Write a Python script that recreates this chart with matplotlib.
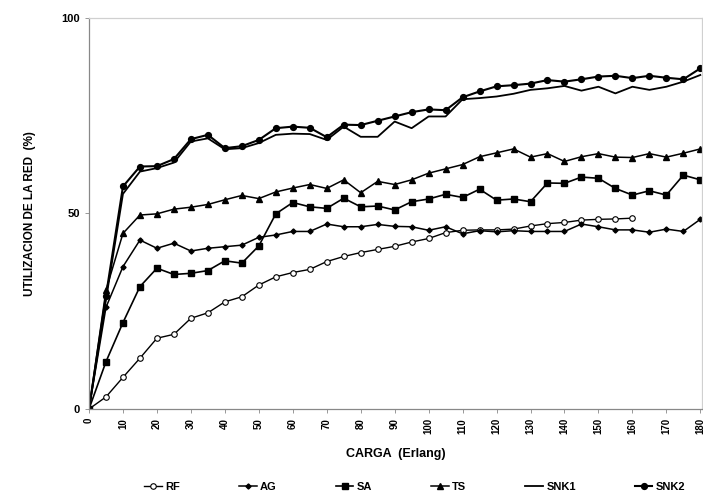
import matplotlib
matplotlib.use("Agg")
import matplotlib.pyplot as plt
import numpy as np

plt.rcParams['font.family'] = ['Liberation Sans', 'DejaVu Sans']
plt.rcParams['font.weight'] = 'bold'

# carga en Erlang, cada 5
carga = np.arange(0, 185, 5)

rf = [0, 3.1, 8.1, 13, 18.1, 19.1, 23.2, 24.6, 27.4, 28.7, 31.7, 33.8, 34.9, 35.7,
      37.7, 39, 40, 40.8, 41.6, 42.7, 43.6, 45.1, 45.7, 45.8, 45.8, 46, 46.8, 47.4,
      47.7, 48.3, 48.5, 48.6, 48.8]
ag = [0, 26, 36.4, 43.2, 41.1, 42.4, 40.4, 41.1, 41.5, 41.9, 43.9, 44.5, 45.4, 45.4,
      47.3, 46.6, 46.6, 47.2, 46.7, 46.6, 45.7, 46.6, 44.8, 45.6, 45.3, 45.6, 45.4,
      45.4, 45.4, 47.3, 46.6, 45.8, 45.8, 45.2, 46, 45.4, 48.5]
sa = [0, 12.1, 22.1, 31.3, 36, 34.4, 34.7, 35.4, 37.9, 37.3, 41.7, 49.9, 52.8, 51.7,
      51.3, 53.9, 51.7, 51.9, 50.9, 53, 53.7, 54.9, 54.1, 56.2, 53.4, 53.7, 53, 57.8,
      57.7, 59.3, 59, 56.4, 54.7, 55.8, 54.7, 59.8, 58.6]
ts = [0, 30.4, 44.9, 49.6, 49.9, 51.1, 51.6, 52.3, 53.5, 54.6, 53.8, 55.5, 56.5, 57.4,
      56.4, 58.6, 55.3, 58.2, 57.4, 58.6, 60.3, 61.4, 62.5, 64.5, 65.5, 66.5, 64.4,
      65.3, 63.3, 64.5, 65.3, 64.4, 64.3, 65.3, 64.4, 65.4, 66.5]
snk1 = [0, 28, 55, 60.7, 61.6, 63, 68.4, 69.2, 66.4, 66.7, 68, 70.1, 70.4, 70.3, 68.8,
        72.2, 69.6, 69.6, 73.5, 71.8, 74.8, 74.8, 79.2, 79.5, 79.9, 80.6, 81.6, 82,
        82.6, 81.4, 82.4, 80.7, 82.4, 81.6, 82.4, 83.7, 85.4]
snk2 = [0, 29, 56.9, 62, 62.1, 63.9, 69, 70.1, 66.7, 67.2, 68.8, 71.8, 72.2, 71.9,
        69.5, 72.7, 72.6, 73.7, 74.8, 75.9, 76.6, 76.4, 79.7, 81.2, 82.5, 82.8, 83.2,
        84.1, 83.7, 84.3, 85, 85.2, 84.6, 85.2, 84.7, 84.3, 87.1]

fig = plt.figure(figsize=(7.03, 4.97), dpi=100)
ax = fig.add_axes([0.1266, 0.177, 0.872, 0.787])

ax.plot(carga[:len(rf)], rf, color='black', lw=1.0, marker='o', ms=4,
        mfc='white', mec='black', mew=0.8, label='RF')
ax.plot(carga, ag, color='black', lw=1.1, marker='D', ms=2.6, label='AG')
ax.plot(carga, sa, color='black', lw=1.2, marker='s', ms=4.2, label='SA')
ax.plot(carga, ts, color='black', lw=1.1, marker='^', ms=4.2, label='TS')
ax.plot(carga, snk1, color='black', lw=1.3, label='SNK1')
ax.plot(carga, snk2, color='black', lw=1.5, marker='o', ms=4.2, label='SNK2')

ax.set_xlim(0, 180.5)
ax.set_ylim(0, 100)
ax.set_xticks(np.arange(0, 190, 10))
ax.set_xticklabels([str(v) for v in range(0, 190, 10)], rotation=90,
                   fontsize=7, fontweight='bold')
ax.set_yticks([0, 50, 100])
ax.set_yticklabels(['0', '50', '100'], fontsize=8, fontweight='bold')
ax.tick_params(axis='both', length=3, width=0.6, color='#888888')

for side in ['left', 'bottom']:
    ax.spines[side].set_color('#888888')
    ax.spines[side].set_linewidth(0.9)
for side in ['top', 'right']:
    ax.spines[side].set_color('#d0d0d0')
    ax.spines[side].set_linewidth(0.9)

ax.set_xlabel('CARGA  (Erlang)', fontsize=9, fontweight='bold', labelpad=10)
ax.set_ylabel('UTILIZACION DE LA RED  (%)', fontsize=8.5, fontweight='bold',
              labelpad=18)

fig.legend(loc='lower center', bbox_to_anchor=(0.59, -0.01), ncol=6,
           frameon=False, prop={'weight': 'bold', 'size': 8},
           handlelength=1.6, handletextpad=0.3, columnspacing=5.3)

fig.savefig('out.png', dpi=100)
